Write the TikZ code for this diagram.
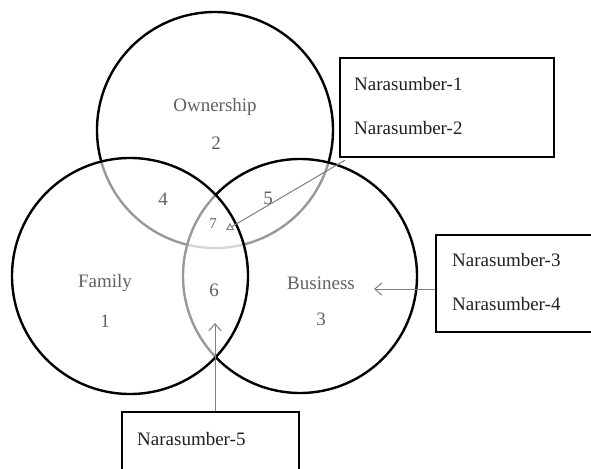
\documentclass[tikz,border=0pt]{standalone}
\usepackage{fontspec}
\setmainfont{Liberation Serif}
\usetikzlibrary{arrows.meta}

\tikzset{
  ring/.style={draw=black, line width=2.4, fill=white, fill opacity=0.6},
  lbl/.style={text=black!62, font=\fontsize{19}{23}\selectfont, inner sep=0},
  nara/.style={text=black!88, font=\fontsize{19}{23}\selectfont, inner sep=0, anchor=base west},
  box/.style={draw=black, line width=2.2, inner sep=0, anchor=north west},
  pointer/.style={draw=black!50, line width=1, -{Straight Barb[length=7pt,width=12pt]}}
}

\begin{document}
\begin{tikzpicture}[x=1pt,y=-1pt]
	\clip (0,0) rectangle (591,468);

	\coordinate (own) at (215,130);
	\coordinate (fam) at (130,276);
	\coordinate (bus) at (300,276);

	\draw[ring] (own) circle[radius=118pt];
	\draw[ring] (bus) circle[radius=117pt];
	\draw[ring] (fam) circle[radius=118pt];

	\node[lbl] (ownlbl) at (215,107) {Ownership};
	\node[lbl] (two) at (216,143) {2};
	\node[lbl] (famlbl) at (105,283) {Family};
	\node[lbl] (one) at (105,321) {1};
	\node[lbl] (buslbl) at (321,283) {Business};
	\node[lbl] (three) at (321,319) {3};
	\node[lbl] (four) at (163,199) {4};
	\node[lbl] (five) at (268,198) {5};
	\node[lbl, font=\fontsize{15}{18}\selectfont] (seven) at (213,224) {7};
	\node[lbl] (six) at (214,290) {6};

	% narasumber boxes
	\node[box, minimum width=214, minimum height=99] (n12) at (339,57) {};
	\node[nara] (nara1) at (354,91) {Narasumber-1};
	\node[nara] (nara2) at (354,134) {Narasumber-2};

	\node[box, minimum width=200, minimum height=97] (n34) at (435,234) {};
	\node[nara] (nara3) at (452,266) {Narasumber-3};
	\node[nara] (nara4) at (452,310) {Narasumber-4};

	\node[box, minimum width=177, minimum height=80] (n5) at (121,411) {};
	\node[nara] (nara5) at (137,445) {Narasumber-5};

	% arrows into the diagram
	\coordinate (t7) at (226,230);
	\coordinate (tb) at (374,289);
	\coordinate (t6) at (215,323);

	\draw[pointer, -{Triangle[open,length=7pt,width=8pt]}] ([shift={(6,2)}]n12.south west) -- (t7);
	\draw[pointer] (n34.west |- tb) -- (tb);
	\draw[pointer] (t6 |- n5.north) -- (t6);
\end{tikzpicture}
\end{document}
